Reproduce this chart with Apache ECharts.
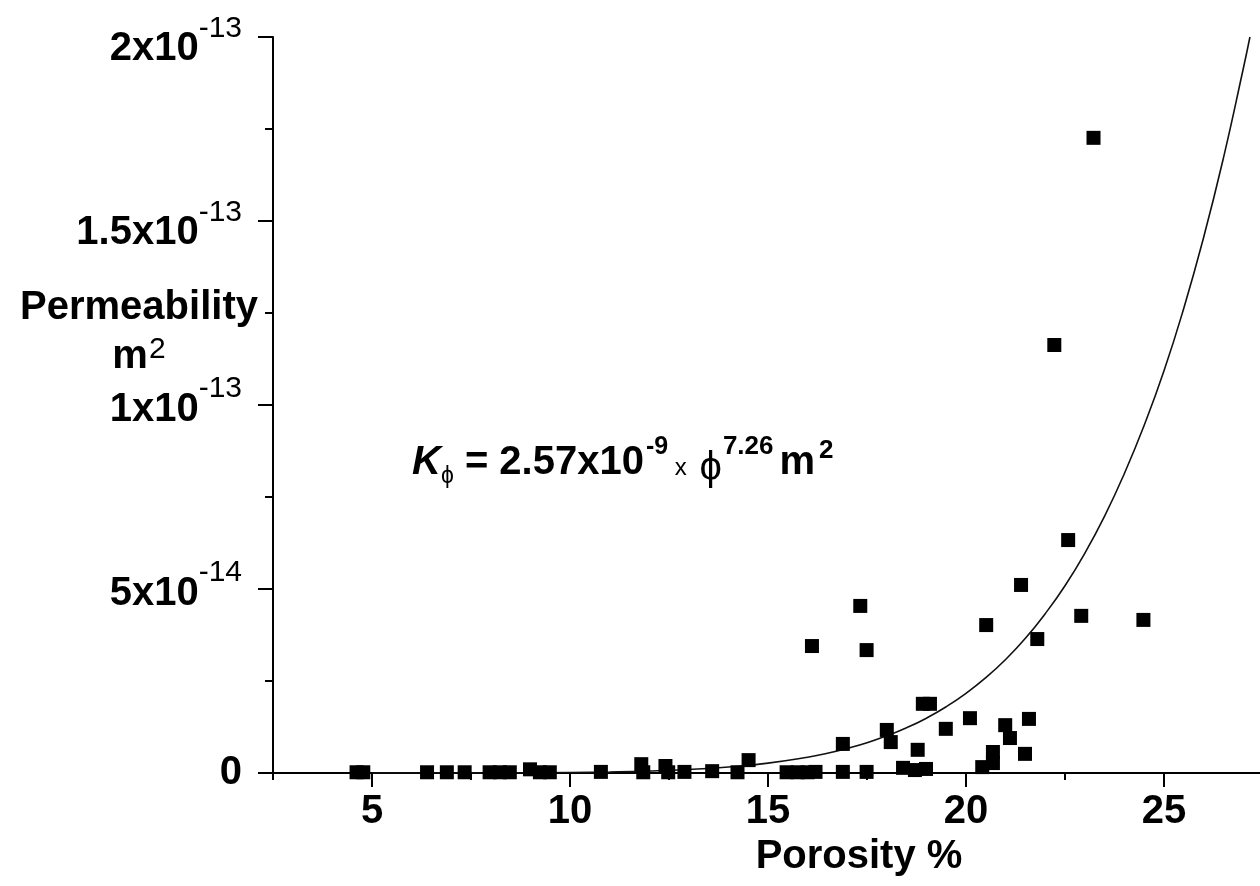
<!DOCTYPE html>
<html>
<head>
<meta charset="utf-8">
<script src="https://cdn.jsdelivr.net/npm/echarts@6/dist/echarts.min.js"></script>
<style>
  html, body { margin: 0; padding: 0; background: #ffffff; }
  #chart { width: 1260px; height: 886px; }
</style>
</head>
<body>
<div id="chart"></div>
<script>
// Porosity (%) of each sample
const porosity = [
  4.61, 4.78, 6.39, 6.89, 7.34, 7.97, 8.23, 8.48, 8.99, 9.24, 9.49, 10.78,
  11.80, 11.85, 12.41, 12.48, 12.89, 13.59, 14.23, 14.51, 15.47, 15.75, 16.00, 16.20,
  16.89, 17.49, 18.41, 18.71, 18.99,
  16.11, 17.33, 17.49, 16.89, 18.00, 18.10, 18.78, 18.91, 19.09, 19.49, 20.10,
  20.41, 20.68, 20.68, 20.99, 21.11, 21.49, 21.59, 20.51, 21.39, 21.80, 22.91,
  24.48, 22.58, 22.23, 23.22
];
// Permeability of each sample, in units of 1e-14 m^2
const permeability = [
  0.02, 0.02, 0.02, 0.02, 0.02, 0.02, 0.02, 0.02, 0.10, 0.02, 0.02, 0.03,
  0.24, 0.02, 0.19, 0.02, 0.03, 0.05, 0.02, 0.35, 0.02, 0.02, 0.02, 0.03,
  0.03, 0.03, 0.14, 0.08, 0.11,
  3.45, 4.54, 3.34, 0.79, 1.17, 0.84, 0.63, 1.88, 1.88, 1.20, 1.49,
  0.16, 0.57, 0.27, 1.30, 0.95, 0.52, 1.47, 4.02, 5.11, 3.64, 4.27,
  4.16, 6.33, 11.63, 17.26
];
// Fitted curve K = 2.57e-9 * phi^7.26 as drawn, units 1e-14 m^2
const fitPorosity = [5, 8, 10, 11, 12, 13, 14, 15, 16, 16.5, 17, 17.5, 18, 18.5, 19, 19.5, 20, 20.5, 21, 21.5, 22, 22.5, 23, 23.5, 24, 24.5, 25, 25.5, 26, 26.5, 27, 27.17];
const fitPermeability = [0.0001, 0.0028, 0.0141, 0.028, 0.053, 0.095, 0.162, 0.268, 0.428, 0.536, 0.667, 0.821, 1.011, 1.23, 1.49, 1.80, 2.165, 2.59, 3.085, 3.66, 4.33, 5.09, 5.97, 6.98, 8.14, 9.45, 10.93, 12.63, 14.55, 16.71, 19.13, 20.0];

// Tick labels
const xTickValues = [5, 10, 15, 20, 25];
const xMinorTickValues = [2.5, 7.5, 12.5, 17.5, 22.5];
const yTickValues = [0, 5, 10, 15, 20];
const yTickMantissa = ['0', '5x10', '1x10', '1.5x10', '2x10'];
const yTickExponent = ['', '-14', '-13', '-13', '-13'];

const FONT = "'Liberation Sans', Arial, sans-serif";

const scatterData = porosity.map((p, i) => [p, permeability[i]]);
const fitData = fitPorosity.map((p, i) => [p, fitPermeability[i]]);

const chart = echarts.init(document.getElementById('chart'), null, { renderer: 'canvas' });

const option = {
  backgroundColor: '#ffffff',
  animation: false,
  textStyle: { fontFamily: FONT, color: '#000' },
  grid: {
    left: 273, top: 37, right: -3, bottom: 113,
    containLabel: false,
    outerBoundsMode: 'none'
  },
  xAxis: [
    {
      type: 'value',
      min: 2.5, max: 27.5,
      position: 'bottom',
      axisLine: { show: true, onZero: false, lineStyle: { color: '#000', width: 2 } },
      axisTick: { show: true, customValues: xTickValues, length: 14, lineStyle: { color: '#000', width: 2 } },
      axisLabel: {
        show: true, customValues: xTickValues, margin: 19,
        fontSize: 40, fontWeight: 'bold', color: '#000', fontFamily: FONT
      },
      splitLine: { show: false },
      name: 'Porosity %',
      nameLocation: 'middle',
      nameGap: 64,
      nameTextStyle: {
        fontSize: 40, fontWeight: 'bold', color: '#000', fontFamily: FONT,
        padding: [0, 0, 0, 182]
      }
    },
    {
      type: 'value',
      min: 2.5, max: 27.5,
      position: 'bottom',
      axisLine: { show: false, onZero: false },
      axisTick: { show: true, customValues: xMinorTickValues, length: 7, lineStyle: { color: '#000', width: 2 } },
      axisLabel: { show: false },
      splitLine: { show: false }
    }
  ],
  yAxis: {
    type: 'value',
    min: 0, max: 20, interval: 5,
    axisLine: { show: true, onZero: false, lineStyle: { color: '#000', width: 2 } },
    axisTick: { show: true, length: 15, lineStyle: { color: '#000', width: 2 } },
    minorTick: { show: true, splitNumber: 2, length: 8, lineStyle: { color: '#000', width: 2 } },
    splitLine: { show: false },
    axisLabel: {
      margin: 31,
      color: '#000',
      fontFamily: FONT,
      formatter: function (v) {
        const i = yTickValues.indexOf(v);
        if (i < 0) return '';
        if (!yTickExponent[i]) return '{z|' + yTickMantissa[i] + '}';
        const k = v >= 15 ? 'a' : 'c';
        return '{b' + k + '|' + yTickMantissa[i] + '}{s' + k + '|' + yTickExponent[i] + '}';
      },
      rich: {
        z: { fontSize: 40, fontWeight: 'bold', lineHeight: 40, fontFamily: FONT, color: '#000' },
        ba: { fontSize: 40, fontWeight: 'bold', lineHeight: 40, padding: [24, 0, 0, 0], fontFamily: FONT, color: '#000' },
        sa: { fontSize: 30, fontWeight: 'normal', lineHeight: 30, padding: [0, 0, 16, 0], fontFamily: FONT, color: '#000' },
        bc: { fontSize: 40, fontWeight: 'bold', lineHeight: 40, padding: [10, 0, 0, 0], fontFamily: FONT, color: '#000' },
        sc: { fontSize: 30, fontWeight: 'normal', lineHeight: 30, padding: [0, 0, 33, 0], fontFamily: FONT, color: '#000' }
      }
    }
  },
  graphic: [
    {
      type: 'text',
      id: 'yAxisTitle',
      x: 139,
      y: 285,
      z: 100,
      style: {
        text: 'Permeability\n{m|m}{s|2}',
        fill: '#000',
        fontFamily: FONT,
        fontSize: 40,
        fontWeight: 'bold',
        lineHeight: 45,
        textAlign: 'center',
        textVerticalAlign: 'top',
        rich: {
          m: { fontSize: 40, fontWeight: 'bold', lineHeight: 45, fontFamily: FONT, padding: [8, 0, 0, 0] },
          s: { fontSize: 30, fontWeight: 'normal', lineHeight: 30, fontFamily: FONT, padding: [0, 0, 6, 1] }
        }
      }
    },
    {
      type: 'text',
      id: 'equation',
      left: 412,
      top: 434,
      z: 100,
      style: {
        text: '{k|K}{sub|ϕ}{eq| = 2.57x10}{sp|-9}{x| x }{phi|ϕ}{sp2|7.26}{m|m}{sp3|2}',
        fill: '#000',
        fontFamily: FONT,
        rich: {
          k: { fontSize: 40, fontWeight: 'bold', fontStyle: 'italic', lineHeight: 40, fontFamily: FONT },
          sub: { fontSize: 23, lineHeight: 23, padding: [28, 0, 0, 0], fontFamily: FONT },
          eq: { fontSize: 40, fontWeight: 'bold', lineHeight: 40, fontFamily: FONT },
          sp: { fontSize: 25, fontWeight: 'bold', lineHeight: 25, padding: [0, 0, 31, 2], fontFamily: FONT },
          x: { fontSize: 24, lineHeight: 24, padding: [10, 6, 0, 0], fontFamily: FONT },
          phi: { fontSize: 40, lineHeight: 40, padding: [11, 0, 0, 0], fontFamily: FONT },
          sp2: { fontSize: 26, fontWeight: 'bold', lineHeight: 26, padding: [0, 0, 32, 1], fontFamily: FONT },
          m: { fontSize: 40, fontWeight: 'bold', lineHeight: 40, padding: [0, 0, 0, 6], fontFamily: FONT },
          sp3: { fontSize: 26, fontWeight: 'bold', lineHeight: 26, padding: [0, 0, 24, 4], fontFamily: FONT }
        }
      }
    }
  ],
  series: [
    {
      type: 'line',
      xAxisIndex: 0,
      data: fitData,
      smooth: true,
      showSymbol: false,
      symbol: 'none',
      lineStyle: { color: '#111', width: 1.6 },
      z: 2
    },
    {
      type: 'scatter',
      xAxisIndex: 0,
      data: scatterData,
      symbol: 'rect',
      symbolSize: 14,
      itemStyle: { color: '#000', opacity: 1 },
      z: 3
    }
  ]
};

chart.setOption(option);
</script>
</body>
</html>
